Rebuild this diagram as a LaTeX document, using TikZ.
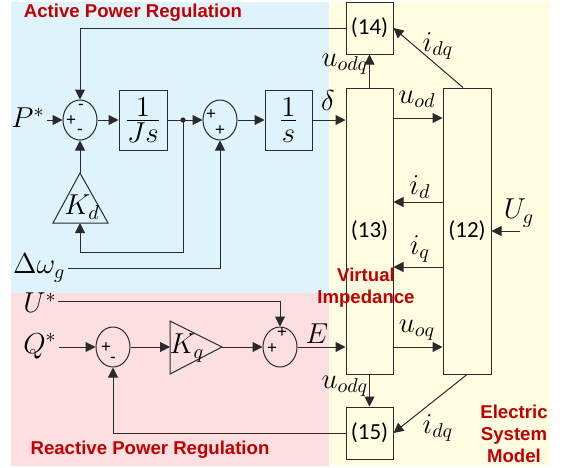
\documentclass[tikz,border=0pt]{standalone}
\usepackage{fontspec}
\setmainfont{Liberation Sans}
\newfontfamily\calfont{Carlito}
\usetikzlibrary{arrows.meta,shapes.geometric}
\definecolor{apblue}{HTML}{DFF3FC}
\definecolor{rppink}{HTML}{FDDFE1}
\definecolor{esyellow}{HTML}{FEFDE2}
\definecolor{lbred}{HTML}{C00000}
\definecolor{wire}{HTML}{2A2A2A}

\begin{document}
\begin{tikzpicture}[x=0.5pt, y=-0.5pt, line width=0.5pt,
    every node/.style={font=\Large, inner sep=1pt},
    blk/.style={draw=wire, rectangle, inner sep=0pt},
    eqn/.style={font=\calfont\fontsize{11.5}{13}\selectfont},
    sumj/.style={draw=wire, ellipse, minimum width=17pt, minimum height=20pt, inner sep=0pt},
    sgn/.style={font=\fontsize{8.5}{9}\selectfont, inner sep=0pt},
    ln/.style={draw=wire},
    arr/.style={draw=wire, -{Triangle[length=5pt,width=5pt]}},
    ttl/.style={font=\bfseries\fontsize{9.3}{11}\selectfont, text=lbred}]
  \useasboundingbox (0,0) rectangle (563,467);
  % shaded regions
  \fill[apblue] (11,2) rectangle (329,293);
  \fill[rppink] (11,293) rectangle (329,466);
  \fill[esyellow] (329,2) rectangle (550,465);

  % active power loop
  \node[ttl] (aptitle) at (133,13) {Active Power Regulation};
  \node (pref) at (28,118) {$P^*$};
  \node[sumj] (sum1) at (80,120) {};
  \node[sgn] (s1a) at (71,121) {+};
  \node[sgn] (s1b) at (81,107) {-};
  \node[sgn] (s1c) at (80,132) {-};
  \node[blk, minimum width=24pt, minimum height=30pt] (jsbox) at (143,120) {$\frac{\textstyle 1\rule[-1.5pt]{0pt}{0pt}}{\textstyle Js\rule{0pt}{10.5pt}}$};
  \coordinate (jn) at (183,120);
  \node[sumj] (sum2) at (220,120) {};
  \node[sgn] (s2a) at (211,115) {+};
  \node[sgn] (s2b) at (220,131) {+};
  \node[blk, minimum width=23.5pt, minimum height=30pt] (sbox) at (288.5,120) {$\frac{\textstyle 1\rule[-1.5pt]{0pt}{0pt}}{\textstyle s\rule{0pt}{10.5pt}}$};
  \node (dlt) at (328,100) {$\delta$};
  \coordinate (kdtop) at (80,173);
  \coordinate (kdl) at (53,223);
  \coordinate (kdr) at (108,223);
  \coordinate (kdbot) at (80,223);
  \draw[ln] (kdtop) -- (kdl) -- (kdr) -- cycle;
  \node (kd) at (82,207) {$K_d$};
  \coordinate (kdin) at (80,252);
  \node[anchor=east] (dw) at (68,268) {$\Delta\omega_g$};

  % reactive power loop
  \node (ustar) at (40,303) {$U^*$};
  \coordinate (uin) at (58,301);
  \node (qstar) at (40,346) {$Q^*$};
  \node[sumj] (sum4) at (113,347) {};
  \node[sgn] (s4a) at (106,348) {+};
  \node[sgn] (s4b) at (113,360) {-};
  \coordinate (kql) at (170,347);
  \coordinate (kqt) at (170,321);
  \coordinate (kqb) at (170,374);
  \coordinate (kqa) at (222,347);
  \draw[ln] (kqt) -- (kqa) -- (kqb) -- cycle;
  \node (kq) at (187,348) {$K_q$};
  \node[sumj] (sum3) at (280,347) {};
  \node[sgn] (s3a) at (272,349) {+};
  \node[sgn] (s3b) at (282,333) {+};
  \node (elab) at (317,334) {$E$};
  \node[ttl] (rptitle) at (150,450) {Reactive Power Regulation};

  % electric system blocks
  \node[blk, eqn, minimum width=23.5pt, minimum height=26pt] (b14) at (369.5,28) {(14)};
  \node[blk, eqn, minimum width=23.5pt, minimum height=143pt] (b13) at (369.5,231) {(13)};
  \node[blk, eqn, minimum width=24pt, minimum height=143pt] (b12) at (467,231) {(12)};
  \node[blk, eqn, minimum width=23.5pt, minimum height=26pt] (b15) at (369.5,433) {(15)};
  \coordinate (rowod) at (418,118);
  \coordinate (rowid) at (418,202);
  \coordinate (rowiq) at (418,267);
  \coordinate (rowoq) at (418,347);
  \coordinate (ugin) at (520,231);
  \node (uodq1) at (345,64) {$u_{odq}$};
  \node (uod) at (417,99) {$u_{od}$};
  \node (idq1) at (438,46) {$i_{dq}$};
  \node (id) at (420,187) {$i_d$};
  \node (iq) at (420,249) {$i_q$};
  \node (ug) at (519,213) {$U_g$};
  \node (uoq) at (417,330) {$u_{oq}$};
  \node (uodq2) at (345,386) {$u_{odq}$};
  \node (idq2) at (438,428) {$i_{dq}$};
  \node[ttl, align=center] (vimp) at (366,288) {Virtual\\Impedance};
  \node[ttl, align=center] (esm) at (514,434) {Electric\\System\\Model};

  % connectors
  \draw[arr] (pref.east |- sum1) -- (sum1);
  \draw[arr] (sum1) -- (jsbox);
  \draw[arr] (jsbox) -- (sum2);
  \fill[wire] (jn) circle (1.3pt);
  \draw[arr] (sum2) -- (sbox);
  \draw[arr] (sbox.east) -- (b13.west |- sbox);
  \draw[arr] (b14.west) -| (sum1.north);
  \draw[arr] (kdtop) -- (sum1.south);
  \draw[arr] (jn) |- (kdin) -- (kdbot);
  \draw[arr] (dw.east) -| (sum2.south);
  \draw[arr] (uin) -| (sum3.north);
  \draw[arr] (qstar.east |- sum4) -- (sum4);
  \draw[arr] (sum4) -- (kql);
  \draw[arr] (kqa) -- (sum3);
  \draw[arr] (sum3) -- (b13.west |- sum3);
  \draw[arr] (b15.west) -| (sum4.south);
  \draw[arr] (b13.north) -- (b14.south);
  \draw[arr] (b13.east |- rowod) -- (b12.west |- rowod);
  \draw[arr] ([xshift=-2pt]b12.north) -- (b14.east);
  \draw[arr] (b12.west |- rowid) -- (b13.east |- rowid);
  \draw[arr] (b12.west |- rowiq) -- (b13.east |- rowiq);
  \draw[arr] (ugin) -- (b12.east);
  \draw[arr] (b13.east |- rowoq) -- (b12.west |- rowoq);
  \draw[arr] (b13.south) -- (b15.north);
  \draw[arr] (b12.south) -- (b15.east);
\end{tikzpicture}
\end{document}
